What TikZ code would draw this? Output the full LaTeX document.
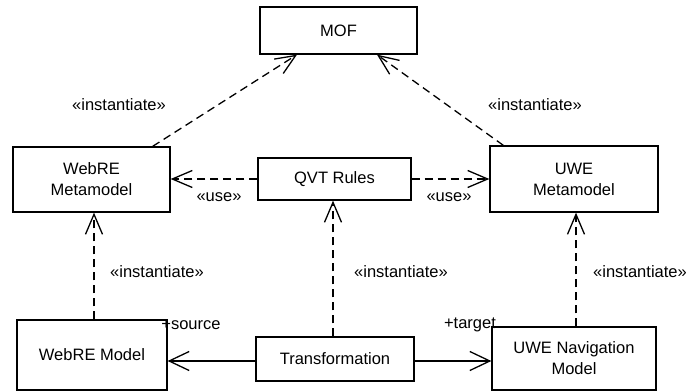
\documentclass[tikz,border=0pt]{standalone}
\usepackage{fontspec}
\setmainfont{Liberation Sans}
\usetikzlibrary{arrows.meta}
\begin{document}
\begin{tikzpicture}[x=1pt,y=-1pt,
  box/.style={draw,line width=1.3pt,rectangle,inner sep=0pt,align=center,font=\fontsize{16.5}{21}\selectfont},
  lbl/.style={inner sep=0pt,font=\fontsize{16.5}{20}\selectfont},
  dep/.style={line width=1.3pt,dash pattern=on 8pt off 5pt,-{Straight Barb[length=20pt,width=17pt,line width=1.3pt]}},
  assoc/.style={line width=1.3pt,-{Straight Barb[length=20pt,width=19pt,line width=1.3pt]}}]
\useasboundingbox (0,0) rectangle (697,391);
\node[box,minimum width=157pt,minimum height=47pt] (mof) at (338.5,30.5) {MOF};
\node[box,minimum width=157pt,minimum height=65pt] (wmm) at (91.5,179.5) {WebRE\\Metamodel};
\node[box,minimum width=153pt,minimum height=42pt] (qvt) at (334.5,179) {QVT Rules};
\node[box,minimum width=168pt,minimum height=66pt] (umm) at (574,179) {UWE\\Metamodel};
\node[box,minimum width=150pt,minimum height=70pt] (wm) at (92,355) {WebRE Model};
\node[box,minimum width=158pt,minimum height=44pt] (tr) at (335,359) {Transformation};
\node[box,minimum width=164pt,minimum height=63pt] (un) at (574,358.5) {UWE Navigation\\Model};

\draw[dep] ([xshift=-18pt]wmm.north east) -- ([xshift=-41.5pt]mof.south);
\draw[dep] ([xshift=14pt]umm.north west) -- ([xshift=38.5pt]mof.south);
\draw[dep] (qvt.west) -- (qvt.west -| wmm.east);
\draw[dep] (qvt.east) -- (qvt.east -| umm.west);
\draw[dep] ([xshift=2pt]wm.north) -- ([xshift=2.5pt]wmm.south);
\draw[dep] ([xshift=-2pt]tr.north) -- ([xshift=-1.5pt]qvt.south);
\draw[dep] ([xshift=2pt]un.north) -- ([xshift=2pt]umm.south);
\draw[assoc] ([yshift=-2pt]tr.west) -- ([yshift=-2pt]tr.west -| wm.east);
\draw[assoc] ([yshift=-2pt]tr.east) -- ([yshift=-2pt]tr.east -| un.west);

\node[lbl] (l1) at (119,105) {«instantiate»};
\node[lbl] (l2) at (535,105) {«instantiate»};
\node[lbl] (l3) at (157,272) {«instantiate»};
\node[lbl] (l4) at (401,272) {«instantiate»};
\node[lbl] (l5) at (640,272) {«instantiate»};
\node[lbl] (u1) at (219,197) {«use»};
\node[lbl] (u2) at (449,197) {«use»};
\node[lbl] (s1) at (191,325) {+source};
\node[lbl] (t1) at (470,325) {+target};
\end{tikzpicture}
\end{document}
